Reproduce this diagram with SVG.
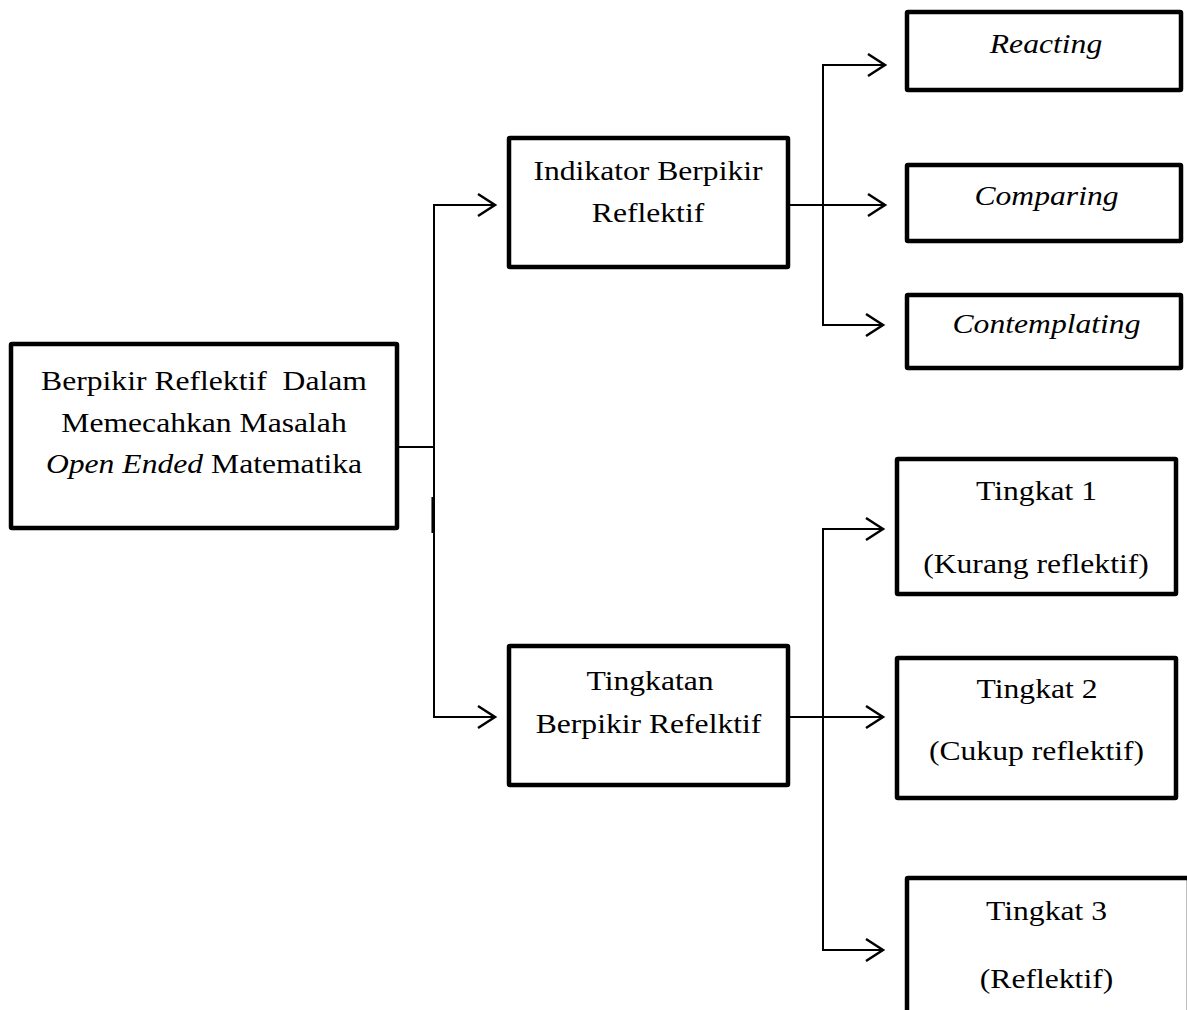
<svg xmlns="http://www.w3.org/2000/svg" width="1187" height="1010" viewBox="0 0 1187 1010">
<style>
.box{fill:#fff;stroke:#000;stroke-width:4.5;stroke-linejoin:round}
.c{fill:none;stroke:#000;stroke-width:2}
.ca{fill:none;stroke:#000;stroke-width:2;marker-end:url(#arr)}
</style>
<defs>
<marker id="arr" markerUnits="userSpaceOnUse" markerWidth="24" markerHeight="30" viewBox="-20 -15 24 30" refX="0" refY="0" orient="auto" overflow="visible">
<path d="M-17,-11 L0,0 L-17,11" fill="none" stroke="#000" stroke-width="2.5"/>
</marker>
</defs>
<rect width="1187" height="1010" fill="#fff"/>
<g id="connectors">
<path class="c" d="M399,447 H434"/>
<path class="c" d="M434,204 V718"/>
<path d="M432.7,497 V533" stroke="#000" stroke-width="2.5"/>
<path class="ca" d="M433,205 H495"/>
<path class="ca" d="M433,717 H495"/>
<path class="ca" d="M790,205 H885"/>
<path class="c" d="M823,64 V326"/>
<path class="ca" d="M822,65 H885"/>
<path class="ca" d="M822,325 H883"/>
<path class="ca" d="M790,717 H883"/>
<path class="c" d="M823,528 V951"/>
<path class="ca" d="M822,529 H883"/>
<path class="ca" d="M822,950 H883"/>
</g>
<g font-family="Liberation Serif" font-size="28" fill="#000" text-anchor="middle">
<g id="node-main">
<rect class="box" x="11" y="344" width="386" height="184" rx="1"/>
<text transform="matrix(1.13 0 0 1 204 0)" x="0" y="390" xml:space="preserve">Berpikir Reflektif  Dalam</text>
<text transform="matrix(1.13 0 0 1 204 0)" x="0" y="432">Memecahkan Masalah</text>
<text transform="matrix(1.13 0 0 1 204 0)" x="0" y="473"><tspan font-style="italic">Open Ended</tspan> Matematika</text>
</g>
<g id="node-indikator">
<rect class="box" x="509" y="138" width="279" height="129" rx="1"/>
<text transform="matrix(1.13 0 0 1 648 0)" x="0" y="180">Indikator Berpikir</text>
<text transform="matrix(1.13 0 0 1 648 0)" x="0" y="222">Reflektif</text>
</g>
<g id="node-tingkatan">
<rect class="box" x="509" y="646" width="279" height="139" rx="1"/>
<text transform="matrix(1.13 0 0 1 650 0)" x="0" y="690">Tingkatan</text>
<text transform="matrix(1.13 0 0 1 648.5 0)" x="0" y="733">Berpikir Refelktif</text>
</g>
<g id="node-reacting">
<rect class="box" x="907" y="12" width="274" height="78" rx="1"/>
<text transform="matrix(1.13 0 0 1 1046 0)" x="0" y="53" font-style="italic">Reacting</text>
</g>
<g id="node-comparing">
<rect class="box" x="907" y="165" width="274" height="76" rx="1"/>
<text transform="matrix(1.13 0 0 1 1046.5 0)" x="0" y="205" font-style="italic">Comparing</text>
</g>
<g id="node-contemplating">
<rect class="box" x="907" y="295" width="274" height="73" rx="1"/>
<text transform="matrix(1.13 0 0 1 1046.5 0)" x="0" y="333" font-style="italic">Contemplating</text>
</g>
<g id="node-tingkat1">
<rect class="box" x="897" y="459" width="279" height="135" rx="1"/>
<text transform="matrix(1.13 0 0 1 1036.5 0)" x="0" y="500">Tingkat 1</text>
<text transform="matrix(1.13 0 0 1 1036 0)" x="0" y="573">(Kurang reflektif)</text>
</g>
<g id="node-tingkat2">
<rect class="box" x="897" y="658" width="279" height="140" rx="1"/>
<text transform="matrix(1.13 0 0 1 1037 0)" x="0" y="698">Tingkat 2</text>
<text transform="matrix(1.13 0 0 1 1036.5 0)" x="0" y="760">(Cukup reflektif)</text>
</g>
<g id="node-tingkat3">
<rect class="box" x="907" y="878" width="282" height="150" rx="1"/>
<text transform="matrix(1.13 0 0 1 1046.5 0)" x="0" y="920">Tingkat 3</text>
<text transform="matrix(1.13 0 0 1 1046.5 0)" x="0" y="988">(Reflektif)</text>
</g>
</g>
</svg>
